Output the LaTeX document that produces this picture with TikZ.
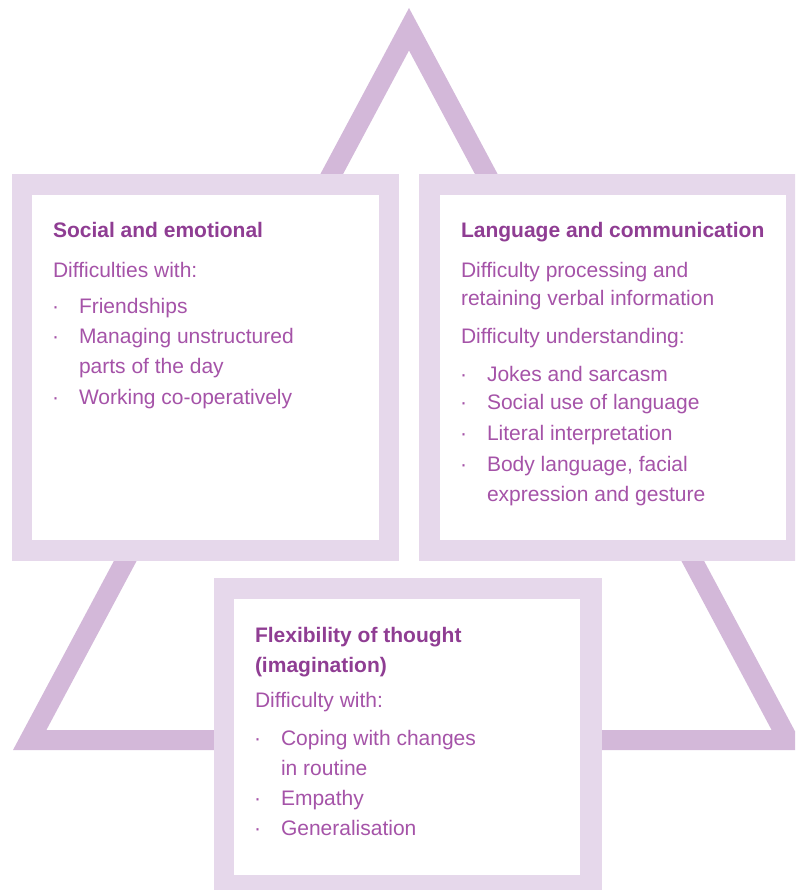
\documentclass[tikz,border=0pt]{standalone}
\usepackage{fontspec}
\setmainfont{Liberation Sans}
\definecolor{tricol}{HTML}{D3B8D9}
\definecolor{framecol}{HTML}{E6D8EB}
\definecolor{titlecol}{HTML}{8F3D93}
\definecolor{bodycol}{HTML}{A553A8}
\begin{document}
\begin{tikzpicture}[x=1pt,y=-1pt,
  txt/.style={anchor=base west,inner sep=0pt,outer sep=0pt,font=\fontsize{21}{25}\selectfont},
  ttl/.style={txt,font=\fontsize{21}{25}\selectfont\bfseries,text=titlecol},
  bdy/.style={txt,text=bodycol},
  bul/.style={txt,text=bodycol}]
\useasboundingbox (0,0) rectangle (795,890);
\clip (0,0) rectangle (795,890);
% triangle band
\fill[tricol,even odd rule] (409,8) -- (13,750) -- (805,750) -- cycle
  (409,50.5) -- (46.4,730) -- (771.6,730) -- cycle;
% box 1
\fill[framecol] (12,174) rectangle (399,561);
\fill[white] (32,195) rectangle (379,540);
% box 2
\fill[framecol] (419,174) rectangle (806,561);
\fill[white] (440,195) rectangle (786,540);
% box 3
\fill[framecol] (214,578) rectangle (602,896);
\fill[white] (234,599) rectangle (580,875);
% box 1 text
\node[ttl] (t1) at (53,238) {Social and emotional};
\node[bdy] (a1) at (53,277) {Difficulties with:};
\node[bul] (b11) at (52,313) {·};
\node[bdy] (i11) at (79,313) {Friendships};
\node[bul] (b12) at (52,343) {·};
\node[bdy] (i12) at (79,343) {Managing unstructured};
\node[bdy] (i12b) at (79,373) {parts of the day};
\node[bul] (b13) at (52,404) {·};
\node[bdy] (i13) at (79,404) {Working co-operatively};
% box 2 text
\node[ttl] (t2) at (461,238) {Language and communication};
\node[bdy] (a2) at (461,277) {Difficulty processing and};
\node[bdy] (a2b) at (461,305) {retaining verbal information};
\node[bdy] (c2) at (461,343) {Difficulty understanding:};
\node[bul] (b21) at (460,381) {·};
\node[bdy] (i21) at (487,381) {Jokes and sarcasm};
\node[bul] (b22) at (460,409) {·};
\node[bdy] (i22) at (487,409) {Social use of language};
\node[bul] (b23) at (460,440) {·};
\node[bdy] (i23) at (487,440) {Literal interpretation};
\node[bul] (b24) at (460,471) {·};
\node[bdy] (i24) at (487,471) {Body language, facial};
\node[bdy] (i24b) at (487,501) {expression and gesture};
% box 3 text
\node[ttl] (t3) at (255,642) {Flexibility of thought};
\node[ttl] (t3b) at (255,672) {(imagination)};
\node[bdy] (a3) at (255,707) {Difficulty with:};
\node[bul] (b31) at (254,745) {·};
\node[bdy] (i31) at (281,745) {Coping with changes};
\node[bdy] (i31b) at (281,775) {in routine};
\node[bul] (b32) at (254,805) {·};
\node[bdy] (i32) at (281,805) {Empathy};
\node[bul] (b33) at (254,835) {·};
\node[bdy] (i33) at (281,835) {Generalisation};
\end{tikzpicture}
\end{document}
